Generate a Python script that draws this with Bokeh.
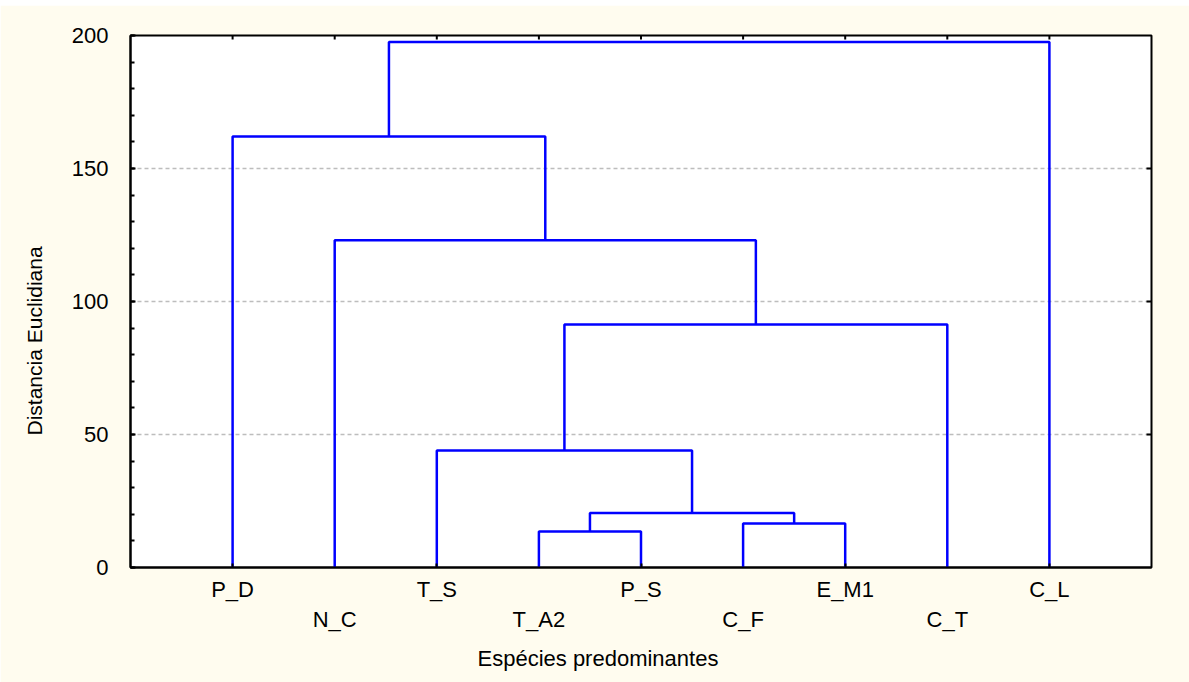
import math
from bokeh.plotting import figure
from bokeh.models import (Range1d, LinearAxis, FixedTicker, Title, Spacer,
                          ColumnDataSource)
from bokeh.layouts import column
from bokeh.embed import file_html
from bokeh.resources import INLINE

# ---- data ----
leaves = ["P_D", "N_C", "T_S", "T_A2", "P_S", "C_F", "E_M1", "C_T", "C_L"]
# linkage (scipy convention: leaf ids 0..8, merged clusters 9..16)
merge_left = [3, 5, 9, 2, 12, 1, 0, 15]
merge_right = [4, 6, 10, 11, 7, 13, 14, 8]
merge_height = [13.5, 16.5, 20.5, 44.0, 91.4, 123.0, 162.0, 197.6]
y_ticks = [0, 50, 100, 150, 200]
y_grid = [50, 100, 150]
x_title = "Espécies predominantes"
y_title = "Distancia Euclidiana"

FONT = "Liberation Sans"
CREAM = "#FFFCEF"
BLUE = "#0000FF"

n = len(leaves)
x_lo, x_hi = 0, n + 1
y_lo, y_hi = 0, 200

node_x = {i: float(i + 1) for i in range(n)}
node_h = {i: 0.0 for i in range(n)}
xs, ys = [], []
for k, (a, b, h) in enumerate(zip(merge_left, merge_right, merge_height)):
    xa, xb = node_x[a], node_x[b]
    xs.append([xa, xa, xb, xb])
    ys.append([node_h[a], h, h, node_h[b]])
    node_x[n + k] = (xa + xb) / 2.0
    node_h[n + k] = h

p = figure(width=1189, height=677, output_backend="svg", toolbar_location=None,
           x_range=Range1d(x_lo, x_hi), y_range=Range1d(y_lo, y_hi),
           min_border_left=130, min_border_right=38, min_border_top=30,
           min_border_bottom=115)
p.background_fill_color = "white"
p.border_fill_color = CREAM
p.outline_line_color = "black"
p.outline_line_width = 2

# grid
p.xgrid.visible = False
p.ygrid.ticker = FixedTicker(ticks=y_grid)
p.ygrid.grid_line_color = "#BDBDBD"
p.ygrid.grid_line_dash = "4 3"
p.ygrid.grid_line_width = 1.5

# left axis
ya = p.yaxis[0]
ya.ticker = FixedTicker(ticks=y_ticks, minor_ticks=list(range(0, 201, 10)))
ya.major_tick_in = 5
ya.major_tick_out = 0
ya.minor_tick_in = 4
ya.minor_tick_out = 0
ya.major_tick_line_width = 2
ya.minor_tick_line_width = 2
ya.axis_line_width = 2
ya.major_label_standoff = 22
ya.major_label_text_font = FONT
ya.major_label_text_font_size = "22px"
ya.major_label_text_color = "black"

# bottom axis 1 (odd leaves)
leaf_pos = [i + 1 for i in range(n)]
xa1 = p.xaxis[0]
xa1.ticker = FixedTicker(ticks=leaf_pos[0::2])
xa1.major_label_overrides = {leaf_pos[i]: leaves[i] for i in range(0, n, 2)}
xa1.major_tick_in = 4
xa1.major_tick_out = 0
xa1.major_tick_line_width = 2
xa1.minor_tick_line_color = None
xa1.axis_line_width = 2
xa1.major_label_standoff = 9
xa1.major_label_text_font = FONT
xa1.major_label_text_font_size = "22px"
xa1.major_label_text_color = "black"

# bottom axis 2 (even leaves, staggered)
xa2 = LinearAxis(ticker=FixedTicker(ticks=leaf_pos[1::2]),
                 major_label_overrides={leaf_pos[i]: leaves[i] for i in range(1, n, 2)})
xa2.axis_line_color = None
xa2.major_tick_line_color = None
xa2.minor_tick_line_color = None
xa2.major_tick_in = 0
xa2.major_tick_out = 0
xa2.major_label_standoff = 2
xa2.major_label_text_font = FONT
xa2.major_label_text_font_size = "22px"
xa2.major_label_text_color = "black"
p.add_layout(xa2, "below")

# x title below, shifted left like the reference
xt = Title(text=x_title, align="left", offset=347, standoff=18,
           text_font=FONT, text_font_size="22px", text_font_style="normal",
           text_color="black")
p.add_layout(xt, "below")

# y title on the left, shifted down like the reference
yt = Title(text=y_title, align="left", vertical_align="top", offset=132,
           standoff=42, text_font=FONT, text_font_size="21px",
           text_font_style="normal", text_color="black")
p.add_layout(yt, "left")

# inner tick marks on the top and right frame edges
top_src = ColumnDataSource(dict(x=leaf_pos, y=[y_hi] * n))
p.scatter(x="x", y="y", source=top_src, marker="dash", size=8, angle=math.pi / 2,
          line_color="black", line_width=2)
right_src = ColumnDataSource(dict(x=[x_hi] * len(y_grid), y=y_grid))
p.scatter(x="x", y="y", source=right_src, marker="dash", size=10,
          line_color="black", line_width=2)

# dendrogram
src = ColumnDataSource(dict(xs=xs, ys=ys))
p.multi_line(xs="xs", ys="ys", source=src, line_color=BLUE, line_width=2.5)

layout = column(Spacer(height=5), p, spacing=0)
open("out.html", "w").write(file_html(layout, INLINE))
